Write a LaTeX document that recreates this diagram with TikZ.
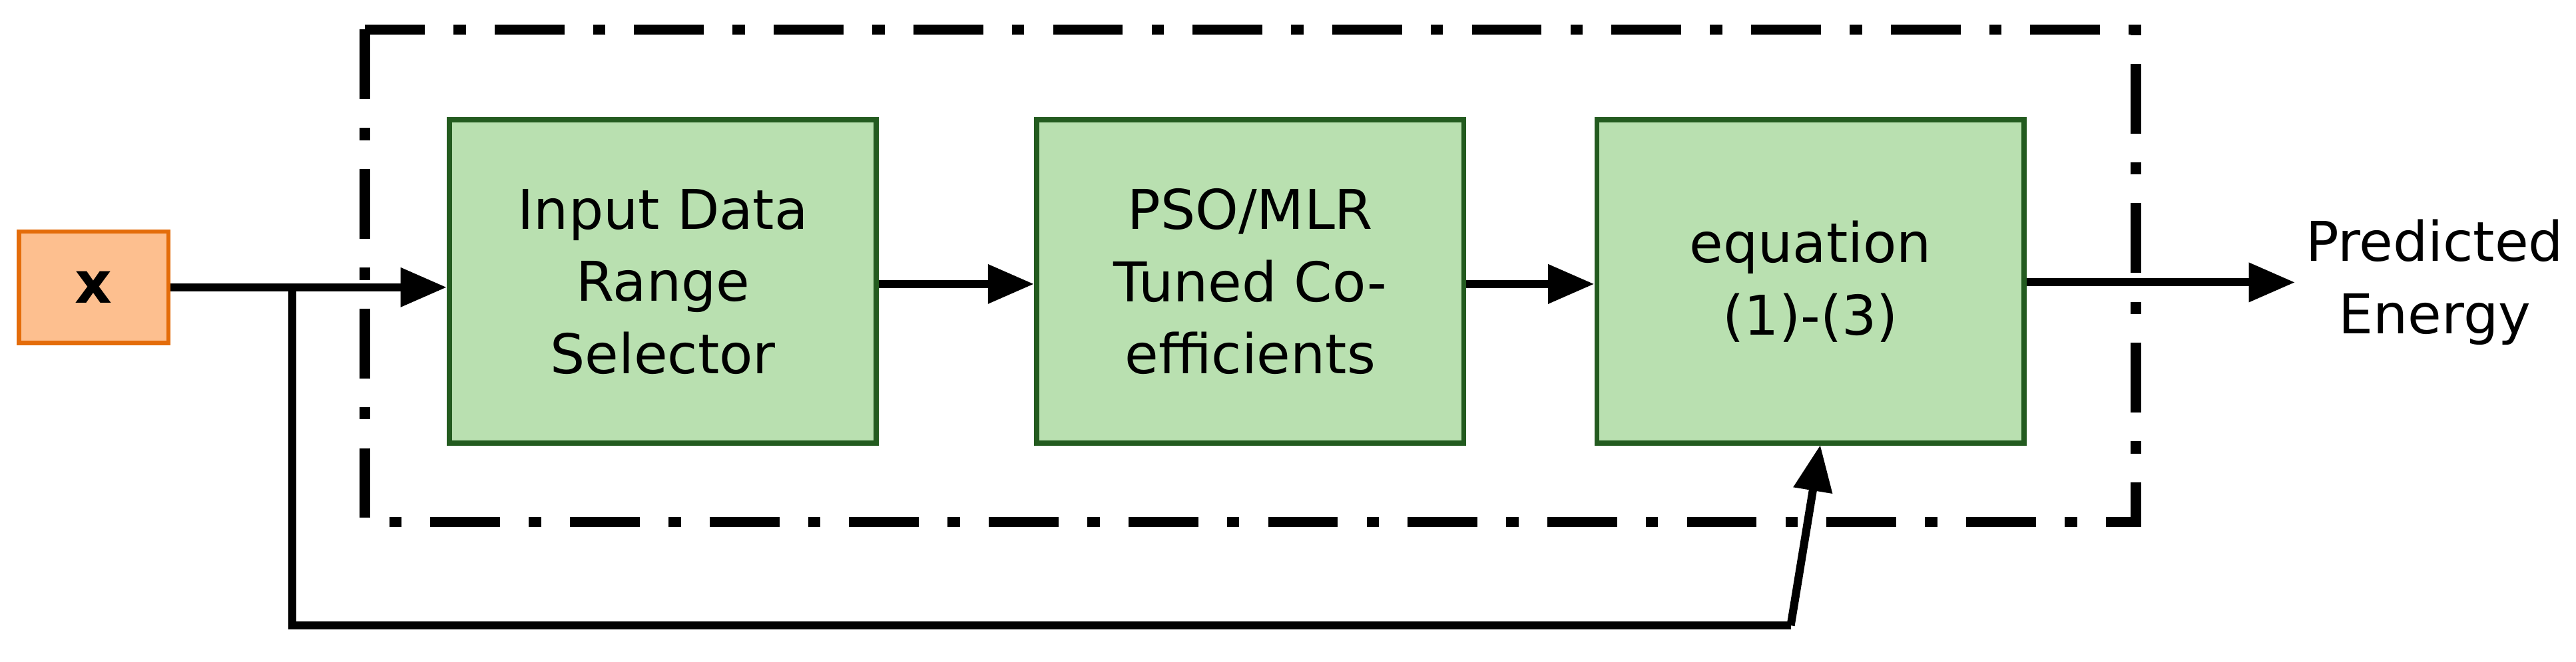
\documentclass[tikz,border=0pt]{standalone}
\usepackage{fontspec}
\setmainfont{DejaVu Sans}
\usetikzlibrary{arrows.meta}
\begin{document}
\begin{tikzpicture}[x=0.02cm,y=-0.02cm,
  blk/.style={line width=1.8pt, minimum width=5.2cm, minimum height=3.94cm, align=center, font=\fontsize{19}{25}\selectfont, inner sep=0pt},
  arr/.style={line width=2.8pt, -{Triangle[length=16pt,width=13pt]}},
  ln/.style={line width=2.8pt}]
\useasboundingbox (0,0) rectangle (1568,403);
\definecolor{xfill}{HTML}{FDBF8F}
\definecolor{xdraw}{HTML}{E46C0A}
\definecolor{gfill}{HTML}{B9E0B0}
\definecolor{gdraw}{HTML}{235B1F}
\node[draw=xdraw, fill=xfill, line width=1.5pt, minimum width=1.82cm, minimum height=1.36cm, font=\fontsize{20}{24}\selectfont\bfseries] (x) at (57,175) {x};
\draw[line width=3.6pt, dash pattern=on 0.85cm off 0.35cm on 0.15cm off 0.35cm] (222,18) rectangle (1300,318);
\node[blk, draw=gdraw, fill=gfill] (b1) at (403.5,171.5) {Input Data\\Range\\Selector};
\node[blk, draw=gdraw, fill=gfill] (b2) at (761,171.5) {PSO/MLR\\Tuned Co-\\efficients};
\node[blk, draw=gdraw, fill=gfill] (b3) at (1102,171.5) {equation\\(1)-(3)};
\node[font=\fontsize{19}{25}\selectfont, align=center] (out) at (1482,172) {Predicted\\Energy};
\coordinate (sp) at (178,175);
\coordinate (c1) at (178,381);
\coordinate (c2) at (1090,381);
\draw[ln] (x.east) -- (sp);
\draw[arr] (sp) -- (b1.west|-sp);
\draw[ln] (sp) -- (c1) -- (c2);
\draw[arr] (c2) -- (1108,271);
\draw[arr] (b1.east|-0,173) -- (b2.west|-0,173);
\draw[arr] (b2.east|-0,173) -- (b3.west|-0,173);
\draw[arr] (b3.east|-0,172) -- (1397,172);
\end{tikzpicture}
\end{document}
